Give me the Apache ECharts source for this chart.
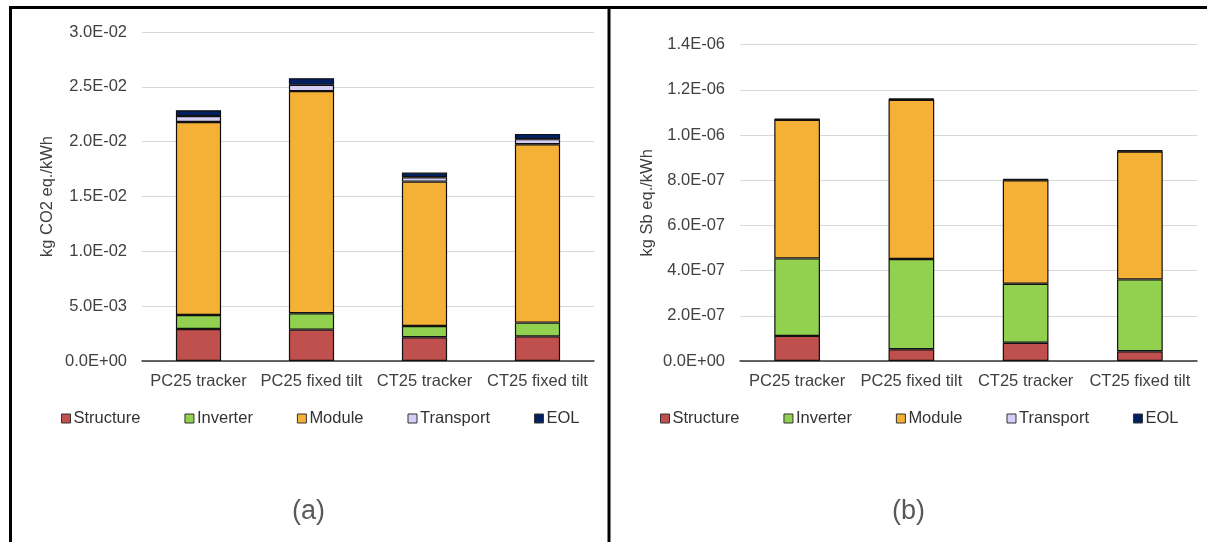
<!DOCTYPE html>
<html>
<head>
<meta charset="utf-8">
<script src="https://cdn.jsdelivr.net/npm/echarts@6/dist/echarts.min.js"></script>
<style>
  html, body { margin: 0; padding: 0; background: #fff; }
  #chart { width: 1207px; height: 542px; }
</style>
</head>
<body>
<div id="chart"></div>
<script>
// categories
var categories = ['PC25 tracker', 'PC25 fixed tilt', 'CT25 tracker', 'CT25 fixed tilt'];
var stages = ['Structure', 'Inverter', 'Module', 'Transport', 'EOL'];
var stageColors = ['#C0504D', '#92D050', '#F5B036', '#D4CFF5', '#002060'];

// (a) kg CO2 eq./kWh
var co2Structure = [0.00292, 0.00286, 0.00216, 0.00225];
var co2Inverter = [0.00128, 0.00149, 0.00103, 0.00125];
var co2Module = [0.0176, 0.02026, 0.01317, 0.01627];
var co2Transport = [0.00053, 0.00057, 0.0004, 0.00046];
var co2Eol = [0.00054, 0.00061, 0.00042, 0.00048];

// (b) kg Sb eq./kWh
var sbStructure = [1.11e-7, 5.2e-8, 8.1e-8, 4.3e-8];
var sbInverter = [3.43e-7, 3.99e-7, 2.61e-7, 3.18e-7];
var sbModule = [6.13e-7, 7.05e-7, 4.58e-7, 5.66e-7];
var sbTransport = [2e-9, 2e-9, 2e-9, 2e-9];
var sbEol = [3e-9, 3e-9, 3e-9, 3e-9];

var co2Data = [co2Structure, co2Inverter, co2Module, co2Transport, co2Eol];
var sbData = [sbStructure, sbInverter, sbModule, sbTransport, sbEol];

var FONT = 'Liberation Sans, Arial, sans-serif';
var TXT = '#404040';

function sci(v) {
    var s = Number(v).toExponential(1).toUpperCase();
    var p = s.split('E');
    var exp = parseInt(p[1], 10);
    var sign = exp < 0 ? '-' : '+';
    var a = Math.abs(exp);
    return p[0] + 'E' + sign + (a < 10 ? '0' + a : a);
}

function makeY(idx, max, interval, name, gap) {
    return {
        type: 'value', gridIndex: idx, min: 0, max: max, interval: interval,
        name: name, nameLocation: 'middle', nameGap: gap, nameRotate: 90,
        nameTextStyle: { color: TXT, fontSize: 16.5, fontFamily: FONT },
        axisLine: { show: false }, axisTick: { show: false },
        axisLabel: { color: TXT, fontSize: 16.5, fontFamily: FONT, margin: 15, formatter: sci },
        splitLine: { lineStyle: { color: '#D9D9D9', width: 1 } }
    };
}

function makeX(idx) {
    return {
        type: 'category', gridIndex: idx, data: categories,
        axisLine: { lineStyle: { color: '#333', width: 1.5 } },
        axisTick: { show: false },
        axisLabel: { color: TXT, fontSize: 16.5, fontFamily: FONT, margin: 12, interval: 0 }
    };
}

var series = [];
[co2Data, sbData].forEach(function (set, g) {
    set.forEach(function (vals, i) {
        series.push({
            name: stages[i], type: 'bar', stack: 'total' + g,
            xAxisIndex: g, yAxisIndex: g,
            barCategoryGap: '60%',
            itemStyle: { color: stageColors[i], borderColor: '#111', borderWidth: 1.2 },
            emphasis: { disabled: true },
            data: vals
        });
    });
});

function makeLegend(left) {
    return {
        left: left, top: 405, itemGap: 44, itemWidth: 9, itemHeight: 9,
        icon: 'rect',
        textStyle: { color: '#333', fontSize: 16.5, fontFamily: FONT, padding: [0, 0, 0, -2] },
        itemStyle: { borderColor: '#333', borderWidth: 1 },
        data: stages
    };
}

var chart = echarts.init(document.getElementById('chart'));
chart.setOption({
    animation: false,
    backgroundColor: '#fff',
    grid: [
        { left: 142, top: 32, width: 452, height: 329 },
        { left: 740, top: 44.6, width: 457, height: 316.4 }
    ],
    xAxis: [makeX(0), makeX(1)],
    yAxis: [
        makeY(0, 0.03, 0.005, 'kg CO2 eq./kWh', 86),
        makeY(1, 1.4e-6, 2e-7, 'kg Sb eq./kWh', 84)
    ],
    legend: [makeLegend(56), makeLegend(655)],
    series: series,
    graphic: [
        { type: 'line', shape: { x1: 9, y1: 7.5, x2: 1207, y2: 7.5 }, style: { stroke: '#000', lineWidth: 3 } },
        { type: 'line', shape: { x1: 10.5, y1: 6, x2: 10.5, y2: 542 }, style: { stroke: '#000', lineWidth: 3 } },
        { type: 'line', shape: { x1: 609, y1: 6, x2: 609, y2: 542 }, style: { stroke: '#000', lineWidth: 3 } },
        { type: 'text', left: 292, top: 498, style: { text: '(a)', fill: '#595959', fontSize: 27, fontFamily: FONT } },
        { type: 'text', left: 892, top: 498, style: { text: '(b)', fill: '#595959', fontSize: 27, fontFamily: FONT } }
    ]
});
</script>
</body>
</html>
